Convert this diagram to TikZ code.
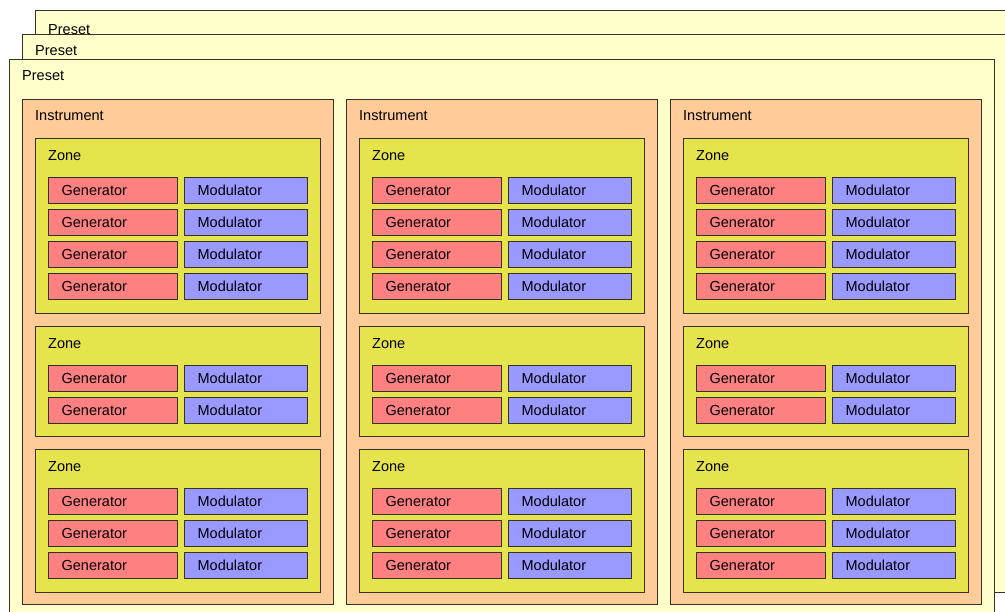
\documentclass[tikz,border=0pt]{standalone}
\usepackage{fontspec}
\setmainfont{Liberation Sans}
\usetikzlibrary{calc,positioning}
\definecolor{presetfill}{RGB}{255,255,204}
\definecolor{instfill}{RGB}{255,204,153}
\definecolor{zonefill}{RGB}{230,228,76}
\definecolor{genfill}{RGB}{255,128,128}
\definecolor{modfill}{RGB}{153,153,255}
\definecolor{edgedark}{RGB}{55,50,35}

\begin{document}
\begin{tikzpicture}[x=1pt, y=-1pt,
  box/.style={draw=edgedark, line width=1.3pt, anchor=north west, inner sep=0pt},
  presetbox/.style={box, fill=presetfill},
  instbox/.style={box, fill=instfill, minimum width=311pt, minimum height=505pt},
  zonebox/.style={box, fill=zonefill, minimum width=285pt},
  cell/.style={box, minimum height=26pt, inner xsep=13pt, inner ysep=0pt, align=left,
    font=\fontsize{14.5}{16}\selectfont},
  genbox/.style={cell, fill=genfill, text width=103pt},
  modbox/.style={cell, fill=modfill, text width=97pt},
  tag/.style={anchor=west, inner sep=0pt, font=\fontsize{14.5}{16}\selectfont}]
  \useasboundingbox (0,0) rectangle (1005,612);
  \clip (0,0) rectangle (1005,612);

  % three stacked presets, the back ones run off the page
  \node[presetbox, minimum width=985pt, minimum height=557pt] (preset3) at (35,10) {};
  \node[tag] at ($(preset3.north west)+(13,20)$) {Preset};
  \node[presetbox, minimum width=998pt, minimum height=558pt] (preset2) at (22,34) {};
  \node[tag] at ($(preset2.north west)+(13,17)$) {Preset};
  \node[presetbox, minimum width=985pt, minimum height=566pt] (preset1) at (9,59) {};
  \node[tag] at ($(preset1.north west)+(13,17)$) {Preset};

  % instruments, each with three zones of generator/modulator pairs
  \foreach \i in {0,1,2} {
    \pgfmathsetmacro\xo{22+324*\i}
    \node[instbox] (inst\i) at (\xo,99) {};
    \node[tag] at ($(inst\i.north west)+(13,17)$) {Instrument};
    \foreach \z/\top/\bot/\rows in {1/138/313/4, 2/326/436/2, 3/449/592/3} {
      \pgfmathsetmacro\zh{\bot-\top}
      \node[zonebox, minimum height=\zh pt] (zone\i\z) at ({\xo+13},\top) {};
      \node[tag] at ($(zone\i\z.north west)+(13,18)$) {Zone};
      \foreach \r in {1,...,\rows} {
        \node[genbox] (gen\i\z\r) at ($(zone\i\z.north west)+({13},{39+32*(\r-1)})$) {Generator};
        \node[modbox] (mod\i\z\r) at ($(zone\i\z.north west)+({149},{39+32*(\r-1)})$) {Modulator};
      }
    }
  }
\end{tikzpicture}
\end{document}
